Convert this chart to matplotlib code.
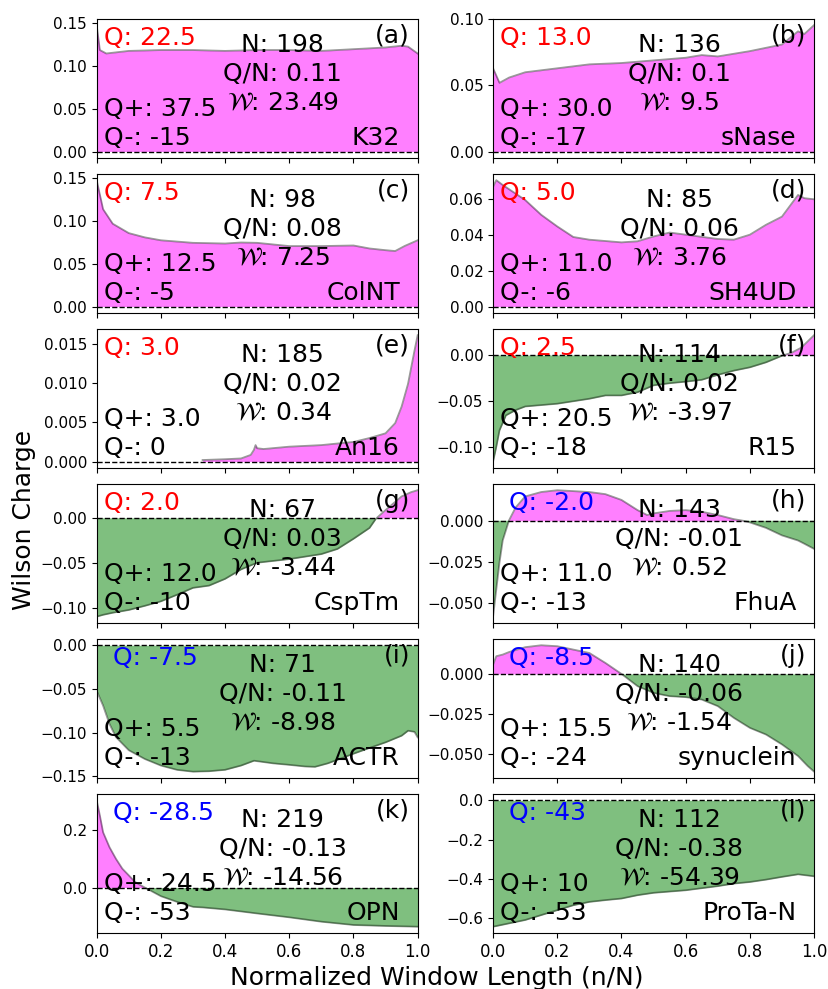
import numpy as np
from matplotlib import pyplot as plt

# Panel data (x = n/N, y = Wilson charge)
#--------------------------------------------------------------------------
k32_x = [0, 0.01, 0.03, 0.1, 0.2, 0.3, 0.4, 0.5, 0.6, 0.7, 0.8, 0.9, 0.95, 0.97, 1.0]
k32_y = [0.147, 0.118, 0.114, 0.117, 0.118, 0.118, 0.117, 0.118, 0.118, 0.117,
         0.119, 0.121, 0.123, 0.122, 0.114]

snase_x = [0, 0.02, 0.05, 0.1, 0.2, 0.3, 0.4, 0.5, 0.6, 0.65, 0.7, 0.8, 0.9, 0.95,
           0.97, 1.0]
snase_y = [0.063, 0.052, 0.056, 0.060, 0.063, 0.066, 0.067, 0.069, 0.071, 0.073,
           0.072, 0.076, 0.081, 0.091, 0.089, 0.0957]

colnt_x = [0, 0.02, 0.05, 0.1, 0.15, 0.2, 0.3, 0.4, 0.45, 0.5, 0.6, 0.7, 0.8,
           0.85, 0.9, 0.93, 0.96, 1.0]
colnt_y = [0.148, 0.114, 0.097, 0.086, 0.081, 0.0776, 0.0746, 0.0738, 0.075,
           0.0746, 0.0708, 0.0708, 0.0715, 0.068, 0.066, 0.065, 0.071, 0.0776]

sh4ud_x = [0, 0.01, 0.03, 0.1, 0.15, 0.2, 0.25, 0.3, 0.4, 0.45, 0.5, 0.55, 0.6,
           0.7, 0.75, 0.8, 0.85, 0.9, 0.95, 0.97, 1.0]
sh4ud_y = [0.067, 0.0707, 0.068, 0.0596, 0.0513, 0.0448, 0.0389, 0.0374, 0.0359,
           0.0365, 0.0392, 0.0414, 0.0402, 0.0378, 0.0374, 0.0402, 0.0457, 0.0503,
           0.0624, 0.0606, 0.060]

an16_x = [0.33, 0.4, 0.45, 0.48, 0.49, 0.495, 0.5, 0.52, 0.6, 0.7, 0.8, 0.85, 0.9,
          0.93, 0.95, 0.97, 0.99, 1.0]
an16_y = [0.0002, 0.0003, 0.0004, 0.00085, 0.0015, 0.0021, 0.0017, 0.0016, 0.0019,
          0.0021, 0.0025, 0.003, 0.0036, 0.0049, 0.007, 0.0099, 0.0141, 0.0161]

r15_x = [0, 0.01, 0.02, 0.04, 0.07, 0.1, 0.2, 0.3, 0.35, 0.4, 0.45, 0.5, 0.55, 0.6,
         0.65, 0.7, 0.75, 0.8, 0.85, 0.9, 0.93, 0.96, 1.0]
r15_y = [-0.116, -0.100, -0.082, -0.0657, -0.060, -0.056, -0.053, -0.0476, -0.044,
         -0.044, -0.0405, -0.033, -0.0307, -0.029, -0.027, -0.0216, -0.017, -0.0134,
         -0.008, -0.0008, 0.0025, 0.008, 0.0216]

csptm_x = [0, 0.02, 0.05, 0.1, 0.15, 0.2, 0.25, 0.3, 0.35, 0.4, 0.45, 0.5, 0.6,
           0.7, 0.75, 0.8, 0.85, 0.87, 0.9, 0.95, 0.98, 1.0]
csptm_y = [-0.110, -0.108, -0.1057, -0.1026, -0.098, -0.093, -0.0857, -0.078,
           -0.0755, -0.068, -0.0574, -0.050, -0.046, -0.0404, -0.0347, -0.0234,
           -0.0113, -0.001, 0.0086, 0.0238, 0.0286, 0.0307]

fhua_x = [0, 0.01, 0.02, 0.03, 0.05, 0.07, 0.1, 0.15, 0.2, 0.3, 0.35, 0.4, 0.45,
          0.48, 0.5, 0.55, 0.6, 0.65, 0.7, 0.75, 0.78, 0.8, 0.85, 0.9, 0.95, 0.97,
          1.0]
fhua_y = [-0.0583, -0.0418, -0.0253, -0.012, 0.0004, 0.008, 0.0148, 0.0175,
          0.0186, 0.0175, 0.0162, 0.0127, 0.0065, 0.0035, 0.0045, 0.006, 0.0065,
          0.0055, 0.0035, 0.001, 0.0, -0.001, -0.0043, -0.0089, -0.012, -0.014,
          -0.0171]

actr_x = [0, 0.02, 0.04, 0.06, 0.1, 0.15, 0.2, 0.25, 0.3, 0.35, 0.4, 0.45, 0.49,
          0.55, 0.6, 0.65, 0.68, 0.72, 0.8, 0.85, 0.9, 0.95, 0.97, 0.99, 1.0]
actr_y = [-0.052, -0.069, -0.090, -0.105, -0.120, -0.130, -0.1375, -0.1424,
          -0.1445, -0.144, -0.1424, -0.1375, -0.132, -0.135, -0.1367, -0.1386,
          -0.139, -0.135, -0.124, -0.1174, -0.111, -0.1034, -0.0977, -0.099,
          -0.1053]

synuclein_x = [0, 0.01, 0.03, 0.05, 0.1, 0.15, 0.2, 0.25, 0.3, 0.35, 0.4, 0.45,
               0.5, 0.55, 0.6, 0.65, 0.7, 0.75, 0.8, 0.85, 0.9, 0.95, 0.98, 1.0]
synuclein_y = [0.0058, 0.011, 0.012, 0.0136, 0.0166, 0.0178, 0.0172, 0.0151,
               0.013, 0.0068, 0.0, -0.0076, -0.0118, -0.0138, -0.0144, -0.0159,
               -0.020, -0.0273, -0.0335, -0.0376, -0.0438, -0.051, -0.0572, -0.0607]

opn_x = [0, 0.01, 0.02, 0.04, 0.06, 0.08, 0.1, 0.12, 0.15, 0.2, 0.25, 0.3, 0.33,
         0.4, 0.5, 0.6, 0.7, 0.8, 0.9, 1.0]
opn_y = [0.303, 0.25, 0.192, 0.14, 0.10, 0.0655, 0.0424, 0.019, 0.0, -0.030,
         -0.0496, -0.067, -0.069, -0.076, -0.090, -0.1034, -0.1186, -0.130,
         -0.1334, -0.136]

prota_x = [0, 0.05, 0.1, 0.15, 0.2, 0.25, 0.3, 0.35, 0.4, 0.45, 0.5, 0.6, 0.7,
           0.75, 0.8, 0.85, 0.9, 0.95, 1.0]
prota_y = [-0.642, -0.625, -0.608, -0.583, -0.558, -0.533, -0.516, -0.507, -0.499,
           -0.482, -0.470, -0.457, -0.436, -0.423, -0.415, -0.403, -0.389, -0.376,
           -0.386]

xs = [k32_x, snase_x, colnt_x, sh4ud_x, an16_x, r15_x,
      csptm_x, fhua_x, actr_x, synuclein_x, opn_x, prota_x]
ys = [k32_y, snase_y, colnt_y, sh4ud_y, an16_y, r15_y,
      csptm_y, fhua_y, actr_y, synuclein_y, opn_y, prota_y]

names = ['K32', 'sNase', 'ColNT', 'SH4UD', 'An16', 'R15',
         'CspTm', 'FhuA', 'ACTR', 'synuclein', 'OPN', 'ProTa-N']
tags = ['(a)', '(b)', '(c)', '(d)', '(e)', '(f)',
        '(g)', '(h)', '(i)', '(j)', '(k)', '(l)']
q_tot = ['22.5', '13.0', '7.5', '5.0', '3.0', '2.5',
         '2.0', '-2.0', '-7.5', '-8.5', '-28.5', '-43']
n_res = ['198', '136', '98', '85', '185', '114', '67', '143', '71', '140', '219', '112']
q_per_n = ['0.11', '0.1', '0.08', '0.06', '0.02', '0.02',
           '0.03', '-0.01', '-0.11', '-0.06', '-0.13', '-0.38']
w_vals = ['23.49', '9.5', '7.25', '3.76', '0.34', '-3.97',
          '-3.44', '0.52', '-8.98', '-1.54', '-14.56', '-54.39']
q_plus = ['37.5', '30.0', '12.5', '11.0', '3.0', '20.5',
          '12.0', '11.0', '5.5', '15.5', '24.5', '10']
q_minus = ['-15', '-17', '-5', '-6', '0', '-18',
           '-10', '-13', '-13', '-24', '-53', '-53']
#--------------------------------------------------------------------------


def main():
    fig, axes = plt.subplots(6, 2, figsize=(8.29, 9.89), dpi=100, sharex=True)
    fig.subplots_adjust(left=0.1166, right=0.982, top=0.981, bottom=0.0566,
                        hspace=0.115, wspace=0.235)

    for i, ax in enumerate(axes.flat):
        x = np.array(xs[i])
        y = np.array(ys[i])
        ax.fill_between(x, y, 0, where=y >= 0, interpolate=True,
                        color='magenta', alpha=0.5, lw=0)
        ax.fill_between(x, y, 0, where=y <= 0, interpolate=True,
                        color='green', alpha=0.5, lw=0)
        ax.plot(x, y, color='k', alpha=0.4, lw=1.3)
        ax.axhline(0, color='k', ls='--', lw=1)
        ax.set_xlim(0, 1)
        ax.tick_params(axis='y', labelsize=11)
        ax.tick_params(axis='x', labelsize=12)

        qcol = 'red' if float(q_tot[i]) > 0 else 'blue'
        qx = 0.023 if float(q_tot[i]) > 0 else 0.05
        fs = 18
        ax.text(qx, 0.865, 'Q: ' + q_tot[i], color=qcol, fontsize=fs,
                transform=ax.transAxes, ha='left', va='center')
        ax.text(0.976, 0.88, tags[i], fontsize=fs, transform=ax.transAxes,
                ha='right', va='center')
        ax.text(0.58, 0.81, 'N: ' + n_res[i], fontsize=fs,
                transform=ax.transAxes, ha='center', va='center')
        ax.text(0.58, 0.605, 'Q/N: ' + q_per_n[i], fontsize=fs,
                transform=ax.transAxes, ha='center', va='center')
        ax.text(0.58, 0.40, r'$\mathcal{W}$: ' + w_vals[i], fontsize=fs,
                transform=ax.transAxes, ha='center', va='center')
        ax.text(0.023, 0.35, 'Q+: ' + q_plus[i], fontsize=fs,
                transform=ax.transAxes, ha='left', va='center')
        ax.text(0.023, 0.145, 'Q-: ' + q_minus[i], fontsize=fs,
                transform=ax.transAxes, ha='left', va='center')
        ax.text(0.945, 0.145, names[i], fontsize=fs,
                transform=ax.transAxes, ha='right', va='center')

    fig.text(0.029, 0.474, 'Wilson Charge', fontsize=18, rotation=90,
             ha='center', va='center')
    fig.text(0.527, 0.004, 'Normalized Window Length (n/N)', fontsize=18,
             ha='center', va='baseline')

    plt.savefig('out.png', dpi=100)


if __name__ == "__main__":
    main()
